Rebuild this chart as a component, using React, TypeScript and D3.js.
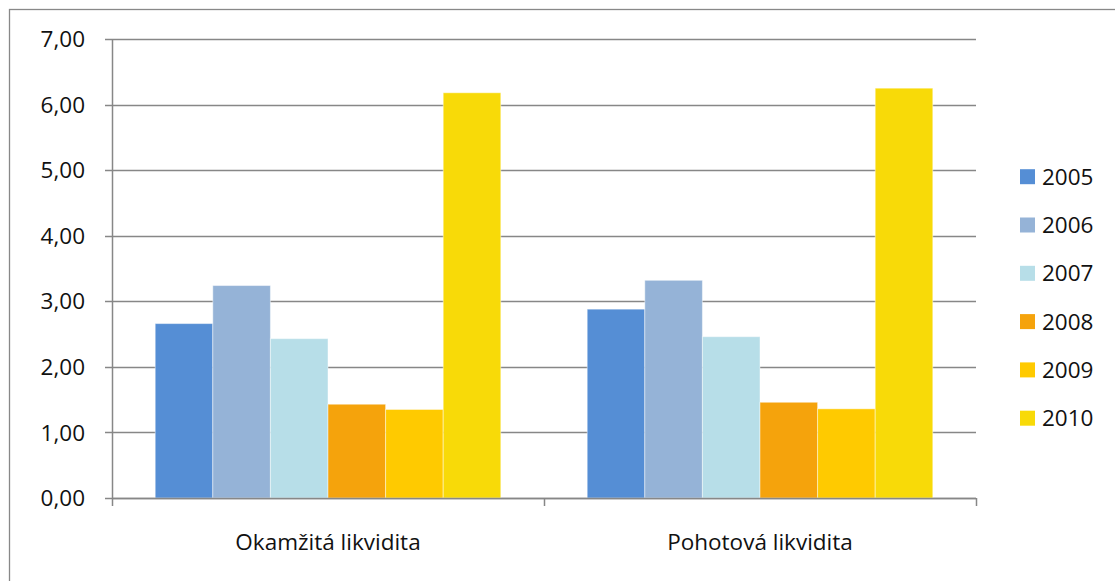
import React from "react";
import * as d3 from "d3";

const categories = ["Okamžitá likvidita", "Pohotová likvidita"];
const years = ["2005", "2006", "2007", "2008", "2009", "2010"];
const values2005 = [2.66, 2.88];
const values2006 = [3.24, 3.32];
const values2007 = [2.43, 2.46];
const values2008 = [1.43, 1.46];
const values2009 = [1.35, 1.36];
const values2010 = [6.18, 6.25];
const yTicks = [0, 1, 2, 3, 4, 5, 6, 7];
const colors = ["#558ED5", "#95B3D7", "#B7DEE8", "#F5A30C", "#FFCA00", "#F8DA08"];

const series = [values2005, values2006, values2007, values2008, values2009, values2010];

const W = 1115;
const H = 581;
const left = 112;
const right = 976;
const top = 39;
const bottom = 498;
const FONT = "'Open Sans', 'Noto Sans', sans-serif";
const FS = 22.5;
const axisColor = "#878787";

export default function App() {
  const x0 = d3.scaleBand<string>().domain(categories).range([left, right]).paddingInner(0).paddingOuter(0);
  const groupPad = x0.bandwidth() * (1.5 / 7.5) / 2;
  const x1 = d3
    .scaleBand<string>()
    .domain(years)
    .range([groupPad, x0.bandwidth() - groupPad])
    .padding(0);
  const y = d3.scaleLinear().domain([0, 7]).range([bottom, top]);
  const fmt = (v: number) => v.toFixed(2).replace(".", ",");

  return (
    <svg width={W} height={H} style={{ position: "absolute", left: 0, top: 0, background: "#fff" }}>
      <rect x={9.5} y={9.5} width={1300} height={800} fill="#fff" stroke="#888" strokeWidth={1.3} />
      {yTicks.map((t) => (
        <g key={t}>
          <line x1={left - 7} x2={right} y1={Math.round(y(t)) + 0.5} y2={Math.round(y(t)) + 0.5} stroke={axisColor} strokeWidth={1.5} />
          <text x={85} y={y(t)} dy="0.36em" textAnchor="end" fontFamily={FONT} fontSize={FS} fill="#111">
            {fmt(t)}
          </text>
        </g>
      ))}
      {categories.map((c, ci) =>
        series.map((s, si) => (
          <rect
            key={c + si}
            x={(x0(c) as number) + (x1(years[si]) as number)}
            y={y(s[ci])}
            width={x1.bandwidth()}
            height={bottom - y(s[ci])}
            fill={colors[si]}
            stroke="rgba(255,255,255,0.45)"
            strokeWidth={1}
          />
        ))
      )}
      <line x1={left + 0.5} x2={left + 0.5} y1={top} y2={bottom} stroke={axisColor} strokeWidth={1.5} />
      <line x1={left} x2={right} y1={bottom + 0.5} y2={bottom + 0.5} stroke={axisColor} strokeWidth={1.5} />
      {[...categories.map((c) => x0(c) as number), right].map((tx, i) => (
        <line key={i} x1={tx + 0.5} x2={tx + 0.5} y1={bottom} y2={bottom + 8} stroke={axisColor} strokeWidth={1.5} />
      ))}
      {categories.map((c) => (
        <text
          key={c}
          x={(x0(c) as number) + x0.bandwidth() / 2}
          y={542}
          dy="0.36em"
          textAnchor="middle"
          fontFamily={FONT}
          fontSize={FS}
          fill="#111"
        >
          {c}
        </text>
      ))}
      {years.map((yr, i) => {
        const cy = 176.7 + i * 48.3;
        return (
          <g key={yr}>
            <rect x={1020} y={cy - 7.5} width={15} height={15} fill={colors[i]} />
            <text x={1042} y={cy} dy="0.36em" fontFamily={FONT} fontSize={FS} fill="#111">
              {yr}
            </text>
          </g>
        );
      })}
    </svg>
  );
}
